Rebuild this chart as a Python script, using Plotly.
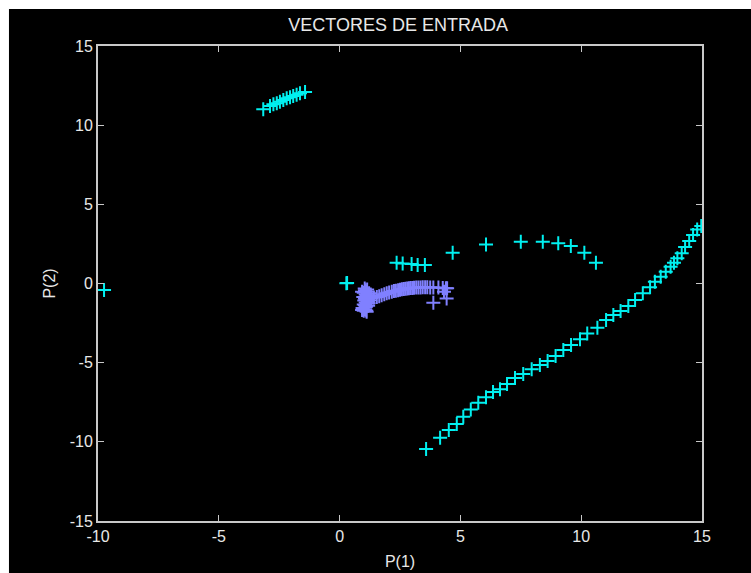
import plotly.graph_objects as go

# Input vectors, first group (cyan)
cyan_x = [-9.75,
          -3.16, -2.88, -2.74, -2.60, -2.47, -2.33, -2.19, -2.05, -1.92, -1.78, -1.64, -1.43,
          0.28, 0.31,
          2.36, 2.61, 2.98, 3.23, 3.53,
          4.68, 6.06, 7.50, 8.41, 9.05, 9.57, 10.13, 10.61,
          3.58, 4.16, 4.52, 4.85, 5.12, 5.43, 5.74, 6.06, 6.35, 6.64, 6.93, 7.26, 7.60, 7.95,
          8.29, 8.61, 8.94, 9.26, 9.58, 9.95, 10.25, 10.67, 11.03, 11.33, 11.63, 11.95, 12.23,
          12.55, 12.85, 13.05, 13.29, 13.50, 13.70, 13.84, 13.98, 14.16, 14.30, 14.47, 14.63,
          14.80, 14.97]
cyan_y = [-0.41,
          11.00, 11.21, 11.32, 11.38, 11.48, 11.59, 11.70, 11.76, 11.84, 11.92, 12.01, 12.09,
          0.01, 0.03,
          1.31, 1.27, 1.23, 1.17, 1.17,
          1.94, 2.47, 2.64, 2.64, 2.54, 2.37, 1.94, 1.31,
          -10.45, -9.74, -9.25, -8.87, -8.41, -7.95, -7.53, -7.19, -6.85, -6.68, -6.35, -5.97,
          -5.72, -5.42, -5.15, -4.90, -4.58, -4.20, -3.88, -3.52, -3.15, -2.79, -2.31, -1.99,
          -1.74, -1.42, -1.04, -0.62, -0.24, 0.11, 0.43, 0.74, 1.06, 1.31, 1.59, 1.91, 2.30,
          2.68, 3.06, 3.41, 3.63]

# Input vectors, second group (blue)
blue_x = [1.05, 1.10, 1.00, 1.15, 1.08, 1.12, 0.98, 1.18, 1.05, 1.10, 1.02, 1.15, 1.08,
          1.12, 1.00, 1.05, 1.10, 1.20, 1.15, 1.08, 0.95, 1.05, 0.93, 0.93,
          1.22, 1.25, 1.20, 1.00, 1.12, 1.18, 1.04, 1.14, 1.22, 1.10,
          1.30, 1.42, 1.54, 1.64, 1.74, 1.85, 1.95, 2.05, 2.16, 2.25, 2.33, 2.42, 2.50, 2.58,
          2.66, 2.73, 2.80, 2.87, 2.94, 3.01, 3.08, 3.17, 3.26, 3.35, 3.44, 3.54, 3.63, 3.75,
          3.88, 4.09, 4.27, 4.40,
          3.88, 4.43, 4.32, 4.45]
blue_y = [-0.42, -0.50, -0.58, -0.64, -0.70, -0.78, -0.85, -0.90, -0.96, -1.02, -1.08, -1.14,
          -1.20, -1.26, -1.32, -1.38, -1.44, -0.75, -0.95, -1.50, -1.55, -1.62, -0.52, -1.67,
          -0.85, -1.05, -1.25, -1.72, -1.78, -1.40, -0.32, -0.38, -0.62, -1.70,
          -0.92, -0.88, -0.85, -0.80, -0.74, -0.68, -0.62, -0.57, -0.52, -0.48, -0.45, -0.42,
          -0.40, -0.37, -0.35, -0.33, -0.31, -0.30, -0.29, -0.28, -0.27, -0.26, -0.25, -0.25,
          -0.24, -0.24, -0.24, -0.25, -0.25, -0.26, -0.28, -0.30,
          -1.21, -0.94, -0.52, -0.30]

x_ticks = [-10, -5, 0, 5, 10, 15]
y_ticks = [-15, -10, -5, 0, 5, 10, 15]

FONT = "Liberation Sans Narrow, Arial Narrow, Liberation Sans, Arial, sans-serif"
AXIS_COLOR = "#c8c8c8"
TEXT_COLOR = "#e8e8e8"

fig = go.Figure()
fig.add_trace(go.Scatter(
    x=cyan_x, y=cyan_y, mode="markers",
    marker=dict(symbol="cross-thin", size=10, line=dict(color="#00f0f0", width=2)),
    showlegend=False,
))
fig.add_trace(go.Scatter(
    x=blue_x, y=blue_y, mode="markers",
    marker=dict(symbol="cross-thin", size=10, line=dict(color="#8080ff", width=2)),
    showlegend=False,
))

axis_common = dict(
    showgrid=False, zeroline=False, automargin=False,
    showline=True, linecolor=AXIS_COLOR, linewidth=2, mirror="ticks",
    ticks="inside", ticklen=6, tickwidth=1, tickcolor=AXIS_COLOR,
    tickfont=dict(family=FONT, size=16, color=TEXT_COLOR),
)

fig.update_xaxes(range=[-10, 15], tickvals=x_ticks, ticktext=[str(v) for v in x_ticks],
                 title=dict(text="P(1)", font=dict(family=FONT, size=16, color=TEXT_COLOR),
                            standoff=12),
                 **axis_common)
fig.update_yaxes(range=[-15, 15], tickvals=y_ticks, ticktext=[str(v) for v in y_ticks],
                 title=dict(text="P(2)", font=dict(family=FONT, size=16, color=TEXT_COLOR),
                            standoff=10),
                 **axis_common)

# Black figure panel with a thin white strip along the top and left edges
fig.add_shape(type="rect", xref="paper", yref="paper",
              x0=-0.1474, x1=1.09, y0=-0.12, y1=1.0779,
              fillcolor="black", line=dict(width=0), layer="below")

fig.update_layout(
    width=751, height=573,
    margin=dict(l=98, r=49, t=46, b=52),
    paper_bgcolor="white", plot_bgcolor="black",
    title=dict(text="VECTORES DE ENTRADA", x=0.497, xref="paper", xanchor="center",
               y=1 - 25 / 573, yref="container", yanchor="middle",
               font=dict(family=FONT, size=18, color=TEXT_COLOR)),
)

fig.write_html("out.html")
